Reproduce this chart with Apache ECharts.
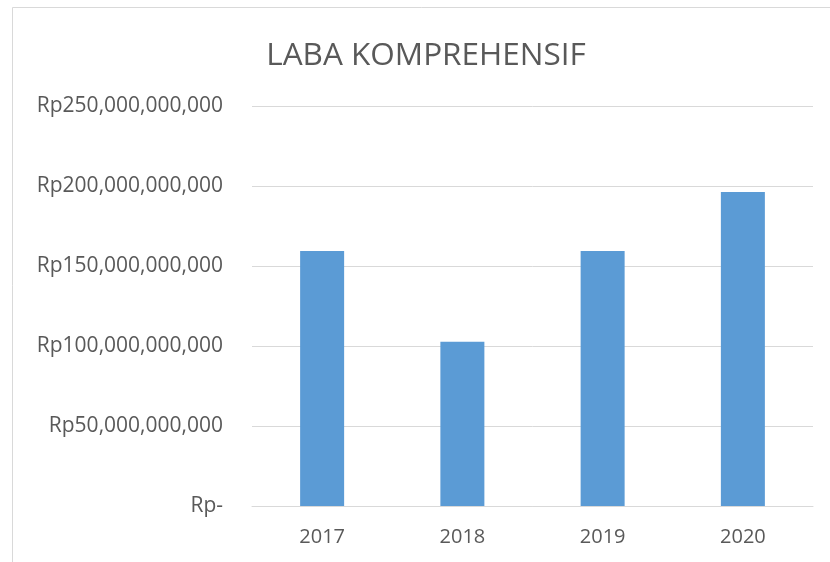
<!DOCTYPE html>
<html>
<head>
<meta charset="utf-8">
<script src="https://cdn.jsdelivr.net/npm/echarts@6/dist/echarts.min.js"></script>
<style>
    html, body { margin: 0; padding: 0; background: #fff; }
    #chart { width: 830px; height: 562px; }
</style>
</head>
<body>
<div id="chart"></div>
<script>
// 数据
var years = ["2017", "2018", "2019", "2020"];
var labaKomprehensif = [159400000000, 102700000000, 159400000000, 196300000000];
var yTicks = [0, 50000000000, 100000000000, 150000000000, 200000000000, 250000000000];

var textColor = "#595959";
var fontName = "Open Sans";

var myChart = echarts.init(document.getElementById("chart"));

var option = {
    backgroundColor: "#fff",
    animation: false,
    title: {
        text: "LABA KOMPREHENSIF",
        left: 421,
        top: 35,
        textAlign: "center",
        textStyle: {
            color: textColor,
            fontFamily: fontName,
            fontSize: 31.5,
            fontWeight: "normal"
        }
    },
    // 外框
    graphic: [
        {
            type: "rect",
            shape: { x: 12.5, y: 7.5, width: 900, height: 700 },
            style: { fill: null, stroke: "#d9d9d9", lineWidth: 1 },
            silent: true
        }
    ],
    grid: {
        left: 252,
        right: 17,
        top: 106,
        bottom: 56,
        containLabel: false
    },
    xAxis: {
        type: "category",
        data: years,
        axisLine: {
            lineStyle: { color: "#d9d9d9", width: 1 }
        },
        axisTick: { show: false },
        axisLabel: {
            color: textColor,
            fontFamily: fontName,
            fontSize: 20,
            margin: 21
        },
        splitLine: { show: false }
    },
    yAxis: {
        type: "value",
        min: yTicks[0],
        max: yTicks[yTicks.length - 1],
        interval: yTicks[1] - yTicks[0],
        axisLine: { show: false },
        axisTick: { show: false },
        axisLabel: {
            color: textColor,
            fontFamily: fontName,
            fontSize: 21,
            margin: 29,
            formatter: function (v) {
                if (v === 0) return "Rp-";
                return "Rp" + v.toLocaleString("en-US");
            }
        },
        splitLine: {
            show: true,
            lineStyle: { color: "#d9d9d9", width: 1 }
        }
    },
    series: [
        {
            name: "LABA KOMPREHENSIF",
            type: "bar",
            data: labaKomprehensif,
            barWidth: 44,
            itemStyle: {
                color: "#5b9bd5",
                borderRadius: 0
            }
        }
    ]
};

myChart.setOption(option);
</script>
</body>
</html>
